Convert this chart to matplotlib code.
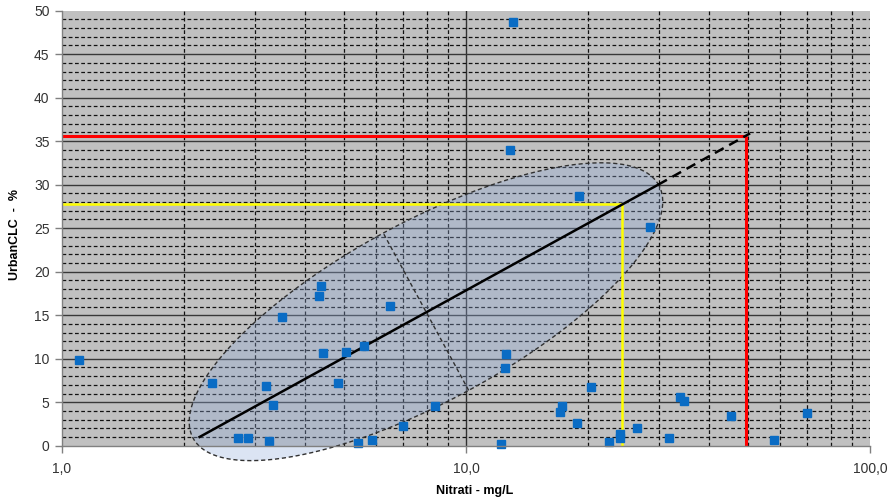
import numpy as np
import matplotlib
matplotlib.use("Agg")
import matplotlib.pyplot as plt
from matplotlib.ticker import FixedLocator, FuncFormatter, NullFormatter

plt.rcParams['font.family'] = ['Liberation Sans', 'DejaVu Sans']

# ---- data ----
nitrati = [1.10, 2.35, 2.72, 2.89, 3.20, 3.25, 3.32, 3.50, 4.33, 4.37,
           4.42, 4.82, 5.04, 5.41, 5.59, 5.86, 6.48, 7.00, 8.38, 12.18,
           12.50, 12.54, 12.88, 13.09, 17.06, 17.29, 18.80, 19.08, 20.40, 22.60,
           24.05, 24.05, 26.55, 28.50, 31.75, 33.90, 34.60, 45.30, 57.80, 69.70]
urban = [9.9, 7.2, 0.85, 0.85, 6.9, 0.55, 4.7, 14.85, 17.2, 18.3,
         10.7, 7.2, 10.8, 0.35, 11.5, 0.6, 16.1, 2.3, 4.55, 0.2,
         8.9, 10.55, 33.95, 48.7, 3.9, 4.55, 2.65, 28.7, 6.7, 0.4,
         1.4, 0.85, 2.0, 25.15, 0.85, 5.6, 5.1, 3.45, 0.7, 3.75]

trend_x = [2.19, 29.9]
trend_y = [1.0, 30.0]
trend_ext_x = [29.9, 50.5]
trend_ext_y = [30.0, 35.9]

red_x, red_y = 49.3, 35.6
yellow_x, yellow_y = 24.3, 27.8

ellipse_center = (7.96, 15.4)   # data coords

x_ticks = [1, 10, 100]
x_ticklabels = ["1,0", "10,0", "100,0"]
y_ticks = [0, 5, 10, 15, 20, 25, 30, 35, 40, 45, 50]

# ---- figure ----
W, H = 890, 501
fig = plt.figure(figsize=(W / 100, H / 100), dpi=100)
ax = fig.add_axes([62 / W, 55.3 / H, 808 / W, 435 / H])
ax.set_facecolor('#c0c0c0')
ax.set_xscale('log')
ax.set_xlim(1, 100)
ax.set_ylim(0, 50)

# grid
minor_x = [m * d for d in (1, 10) for m in range(2, 10)]
for v in minor_x:
    ax.axvline(v, color='#111111', lw=0.9, ls=(0, (3, 2)), zorder=0.6)
ax.axvline(10, color='#303030', lw=1.0, zorder=0.6)
for v in range(1, 50):
    if v % 5 == 0:
        ax.axhline(v, color='#383838', lw=1.0, zorder=0.6)
    else:
        ax.axhline(v, color='#111111', lw=0.9, ls=(0, (3, 2)), zorder=0.6)

# ellipse (drawn in display space so it looks like a true ellipse)
a_px, b_px, ang = 265.0, 89.5, np.deg2rad(28.5)
cx, cy = ax.transData.transform(ellipse_center)
t = np.linspace(0, 2 * np.pi, 400)
ex = cx + a_px * np.cos(t) * np.cos(ang) - b_px * np.sin(t) * np.sin(ang)
ey = cy + a_px * np.cos(t) * np.sin(ang) + b_px * np.sin(t) * np.cos(ang)
pts = ax.transData.inverted().transform(np.column_stack([ex, ey]))
ax.fill(pts[:, 0], pts[:, 1], color='#91acda', alpha=0.32, lw=0,
        clip_on=False, zorder=1)
ax.plot(pts[:, 0], pts[:, 1], color='#303030', lw=1.0, ls=(0, (3, 2)),
        clip_on=False, zorder=1.5)
# minor axis
mx = [cx + b_px * np.sin(ang), cx - b_px * np.sin(ang)]
my = [cy - b_px * np.cos(ang), cy + b_px * np.cos(ang)]
mpts = ax.transData.inverted().transform(np.column_stack([mx, my]))
ax.plot(mpts[:, 0], mpts[:, 1], color='#303030', lw=1.0, ls=(0, (3, 2)),
        zorder=1.5)

# threshold lines
ax.plot([1, red_x], [red_y, red_y], color='#ff0000', lw=2.2, zorder=3,
        solid_capstyle='butt')
ax.plot([red_x, red_x], [0, red_y], color='#ff0000', lw=2.2, zorder=3,
        solid_capstyle='butt')
ax.plot([1, yellow_x], [yellow_y, yellow_y], color='#ffff00', lw=1.8, zorder=3,
        solid_capstyle='butt')
ax.plot([yellow_x, yellow_x], [0, yellow_y], color='#ffff00', lw=1.8, zorder=3,
        solid_capstyle='butt')

# trend line
ax.plot(trend_x, trend_y, color='black', lw=1.8, zorder=4)
ax.plot(trend_ext_x, trend_ext_y, color='black', lw=1.8, ls=(0, (4, 2.5)),
        zorder=4)

# points
ax.plot(nitrati, urban, ls='none', marker='s', ms=5.3, color='#0a6cc4',
        mec='#0a6cc4', zorder=5, clip_on=False)

# axes styling
for s in ('top', 'right'):
    ax.spines[s].set_visible(False)
for s in ('left', 'bottom'):
    ax.spines[s].set_color('#808080')
    ax.spines[s].set_linewidth(1.0)
    ax.spines[s].set_zorder(6)

ax.xaxis.set_major_locator(FixedLocator(x_ticks))
ax.xaxis.set_major_formatter(FuncFormatter(
    lambda v, p: x_ticklabels[x_ticks.index(int(round(v)))] if int(round(v)) in x_ticks else ''))
ax.xaxis.set_minor_locator(FixedLocator(minor_x))
ax.xaxis.set_minor_formatter(NullFormatter())
ax.tick_params(axis='x', which='minor', length=0)
ax.yaxis.set_major_locator(FixedLocator(y_ticks))
ax.tick_params(axis='both', which='major', direction='out', length=5,
               width=1, color='#808080', labelsize=10, labelcolor='#333333')
ax.tick_params(axis='x', pad=7)
ax.tick_params(axis='y', pad=4)

ax.set_xlabel('Nitrati - mg/L', fontsize=9, fontweight='bold')
ax.set_ylabel('UrbanCLC  -  %', fontsize=9, fontweight='bold')
ax.xaxis.set_label_coords((475 - 62) / 808, -(491 - 445.7) / 435)
ax.yaxis.set_label_coords(-(62 - 15) / 808, (445.7 - 235) / 435)
ax.xaxis.label.set_va('center')
ax.yaxis.label.set_va('center')

fig.savefig('out.png', dpi=100)
